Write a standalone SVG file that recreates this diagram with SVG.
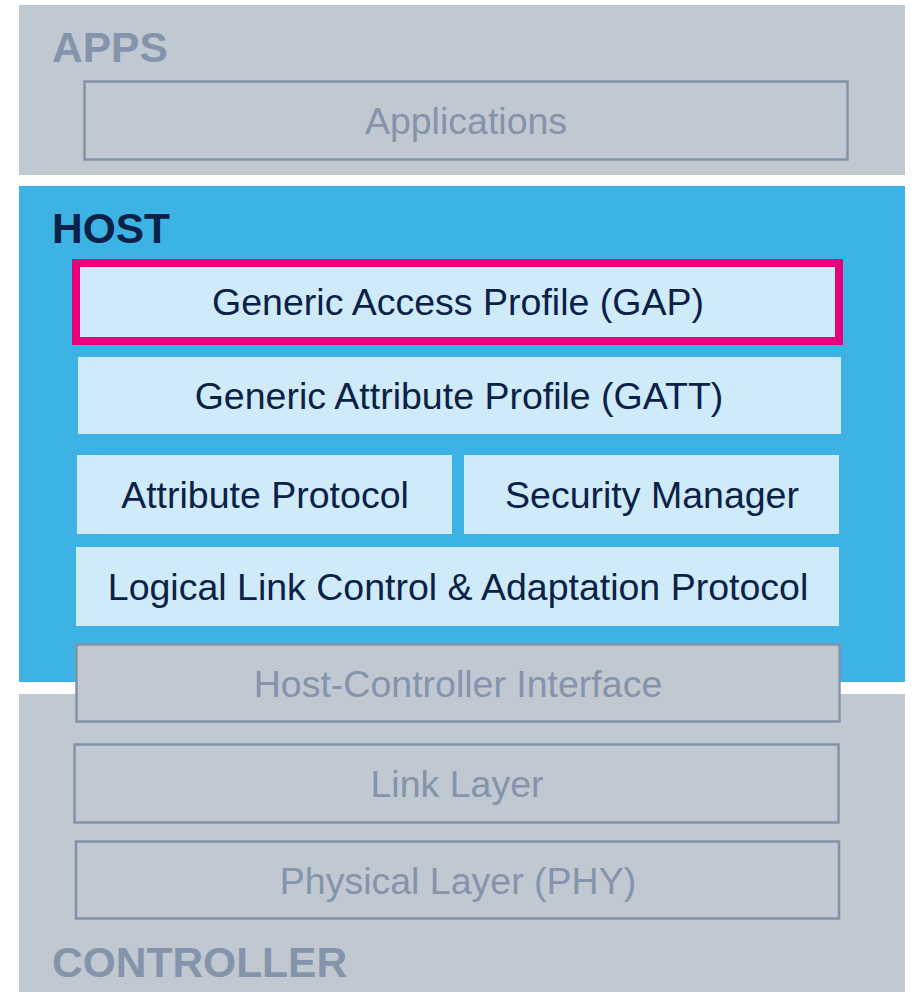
<svg xmlns="http://www.w3.org/2000/svg" width="914" height="992" viewBox="0 0 914 992">
  <style>
    .panel-gray { fill: #c0c8d2; }
    .panel-blue { fill: #3db3e5; }
    .layer { fill: #cfeaf9; }
    .layer-gray { fill: #c0c8d2; stroke: #8293a8; stroke-width: 2.5; }
    .focus { fill: #cfeaf9; stroke: #e6007e; stroke-width: 8; }
    .title { font-family: "Liberation Sans", Arial, sans-serif; font-weight: bold; font-size: 42.5px; }
    .title-gray { fill: #8494aa; }
    .title-dark { fill: #0b2147; }
    .label { font-family: "Liberation Sans", Arial, sans-serif; font-size: 37.5px; text-anchor: middle; }
    .label-dark { fill: #0b2147; }
    .label-gray { fill: #8494aa; }
  </style>
  <rect width="914" height="992" fill="#ffffff"/>

  <!-- Section backgrounds -->
  <g id="apps">
    <rect class="panel-gray" x="19" y="5" width="886" height="170"/>
    <text class="title title-gray" x="52" y="62">APPS</text>
  </g>
  <g id="controller">
    <rect class="panel-gray" x="19" y="694" width="886" height="298"/>
    <text class="title title-gray" x="52" y="977">CONTROLLER</text>
  </g>
  <g id="host">
    <rect class="panel-blue" x="19" y="186" width="886" height="496"/>
    <text class="title title-dark" x="52" y="243">HOST</text>
  </g>

  <!-- Layers -->
  <g id="applications">
    <rect class="layer-gray" x="84.5" y="81.5" width="763" height="78"/>
    <text class="label label-gray" x="466" y="134">Applications</text>
  </g>
  <g id="gap">
    <rect class="focus" x="76" y="263" width="763" height="78"/>
    <text class="label label-dark" x="458" y="315">Generic Access Profile (GAP)</text>
  </g>
  <g id="gatt">
    <rect class="layer" x="78" y="357" width="763" height="77"/>
    <text class="label label-dark" x="459" y="409">Generic Attribute Profile (GATT)</text>
  </g>
  <g id="att">
    <rect class="layer" x="77" y="455" width="375" height="79"/>
    <text class="label label-dark" x="265" y="508">Attribute Protocol</text>
  </g>
  <g id="sm">
    <rect class="layer" x="464" y="455" width="375" height="79"/>
    <text class="label label-dark" x="652" y="508">Security Manager</text>
  </g>
  <g id="l2cap">
    <rect class="layer" x="76" y="547" width="763" height="79"/>
    <text class="label label-dark" x="458" y="600">Logical Link Control &amp; Adaptation Protocol</text>
  </g>
  <g id="hci">
    <rect class="layer-gray" x="76.5" y="644.5" width="763" height="77"/>
    <text class="label label-gray" x="458" y="697">Host-Controller Interface</text>
  </g>
  <g id="link-layer">
    <rect class="layer-gray" x="74.5" y="744.5" width="764" height="78"/>
    <text class="label label-gray" x="457" y="797">Link Layer</text>
  </g>
  <g id="phy">
    <rect class="layer-gray" x="76" y="841.5" width="763" height="77"/>
    <text class="label label-gray" x="458" y="894">Physical Layer (PHY)</text>
  </g>

  <g id="connectors"></g>
</svg>
